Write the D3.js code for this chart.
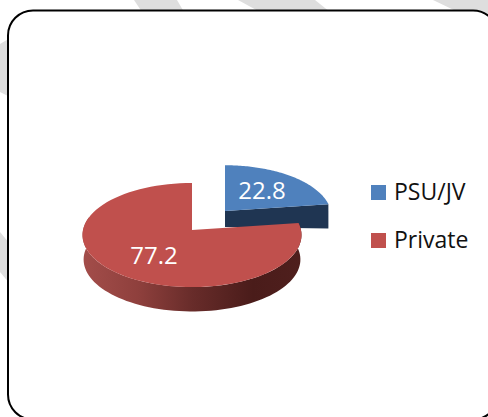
<!DOCTYPE html>
<html>
<head>
<meta charset="utf-8">
<script src="https://cdnjs.cloudflare.com/ajax/libs/d3/7.8.5/d3.min.js"></script>
<style>
    html, body { margin: 0; padding: 0; background: #fff; }
    svg { display: block; }
    text { font-family: "Open Sans", sans-serif; }
</style>
</head>
<body>
<svg id="chart" width="488" height="417"></svg>
<script>
const categories = ["PSU/JV", "Private"];
const shares = [22.8, 77.2];
const sliceColors = ["#4f81bd", "#c0504d"];

const center = { x: 192, y: 230 };
const radiusX = 109;
const radiusY = 51.6;
const tilt = 0.096;

// drawn with the exploded slice first so the big one overlaps it
const explode = [
    { dx: 33, dy: -19, scale: 0.97 },
    { dx: 0, dy: 0, scale: 1 },
];

const svg = d3.select("#chart");

// watermark pieces showing around the frame
const watermark = [
    [[134, 0], [177, 0], [184, 12], [142, 12]],
    [[238, 0], [315, 0], [330, 12], [260, 12]],
    [[433, 0], [488, 0], [488, 30], [458, 12]],
    [[0, 44], [10, 38], [10, 97], [0, 92]],
    [[0, 232], [10, 244], [10, 284], [0, 272]],
];
svg.selectAll("polygon.watermark")
    .data(watermark)
    .enter()
    .append("polygon")
    .attr("class", "watermark")
    .attr("points", (d) => d.join(" "))
    .attr("fill", "#dedede");

svg.append("rect")
    .attr("x", 8)
    .attr("y", 10.5)
    .attr("width", 490)
    .attr("height", 409)
    .attr("rx", 25)
    .attr("fill", "#fff")
    .attr("stroke", "#000")
    .attr("stroke-width", 2);

const defs = svg.append("defs");
const wallGradient = defs
    .append("linearGradient")
    .attr("id", "redWall")
    .attr("gradientUnits", "userSpaceOnUse")
    .attr("x1", -radiusX)
    .attr("x2", radiusX)
    .attr("y1", 0)
    .attr("y2", 0);
wallGradient
    .selectAll("stop")
    .data([
        [0, "#a34d4a"],
        [0.25, "#8f403d"],
        [0.5, "#682c2a"],
        [0.78, "#4a1c1a"],
        [1, "#4f1f1d"],
    ])
    .enter()
    .append("stop")
    .attr("offset", (d) => d[0])
    .attr("stop-color", (d) => d[1]);

// perspective ground plane: the front of the disc comes out larger than the back
function project(angle, radius) {
    const s = 1 / (1 + tilt * radius * Math.cos(angle));
    return {
        x: radiusX * radius * Math.sin(angle) * s,
        y: -radiusY * radius * Math.cos(angle) * s,
    };
}

function depth(angle, radius) {
    return 16 + radius * (8.5 - 0.5 * Math.cos(angle));
}

function rimPoints(start, end, scale, lowered) {
    const steps = 80;
    return d3.range(steps + 1).map((i) => {
        const a = start + ((end - start) * i) / steps;
        const p = project(a, scale);
        return [p.x, lowered ? p.y + depth(a, 1) : p.y];
    });
}

const line = d3.line();
const arcs = d3.pie().sort(null).value((d) => d)(shares);

const slices = svg
    .selectAll("g.slice")
    .data(arcs)
    .enter()
    .append("g")
    .attr("class", "slice")
    .attr("transform", (d, i) => `translate(${center.x + explode[i].dx},${center.y + explode[i].dy})`);

slices.each(function (d, i) {
    const g = d3.select(this);
    const scale = explode[i].scale;
    const wallEnd = Math.min(d.endAngle, (285 * Math.PI) / 180);

    if (i === 0) {
        // cut face of the pulled out slice
        const rim = project(d.endAngle, scale);
        const cut = [
            [0, 0],
            [rim.x, rim.y],
            [rim.x, rim.y + depth(d.endAngle, 1)],
            [0, depth(d.endAngle, 0)],
        ];
        g.append("path").attr("d", line(cut) + "Z").attr("fill", "#1f3552");
    } else {
        const wall = rimPoints(d.startAngle, wallEnd, scale, false).concat(
            rimPoints(d.startAngle, wallEnd, scale * 0.99, true).reverse()
        );
        g.append("path").attr("d", line(wall) + "Z").attr("fill", "url(#redWall)");
    }

    const top = [[0, 0]].concat(rimPoints(d.startAngle, d.endAngle, scale, false));
    g.append("path")
        .attr("d", line(top) + "Z")
        .attr("fill", sliceColors[i]);
});

// value labels
const labelSpots = [
    { x: 262, y: 199 },
    { x: 154, y: 264 },
];
svg.selectAll("text.value")
    .data(shares)
    .enter()
    .append("text")
    .attr("class", "value")
    .attr("x", (d, i) => labelSpots[i].x)
    .attr("y", (d, i) => labelSpots[i].y)
    .attr("text-anchor", "middle")
    .attr("font-size", 24)
    .attr("fill", "#fff")
    .text((d) => d);

// legend
const legendY = d3.scalePoint().domain(categories).range([200, 248]);
const legend = svg
    .selectAll("g.legend")
    .data(categories)
    .enter()
    .append("g")
    .attr("class", "legend")
    .attr("transform", (d) => `translate(371,${legendY(d)})`);

legend
    .append("rect")
    .attr("y", -15)
    .attr("width", 15)
    .attr("height", 15)
    .attr("fill", (d, i) => sliceColors[i]);

legend
    .append("text")
    .attr("x", 23)
    .attr("font-size", 23)
    .attr("fill", "#111")
    .text((d) => d);
</script>
</body>
</html>
